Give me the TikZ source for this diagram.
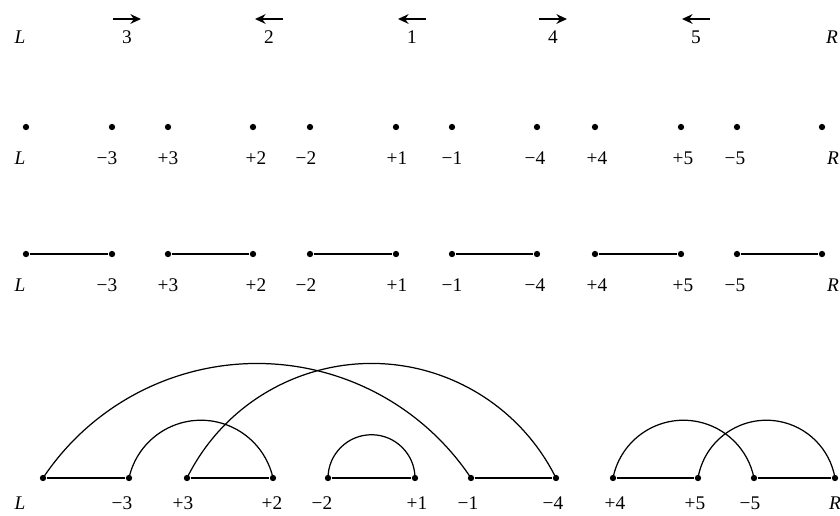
\documentclass[tikz,border=0pt]{standalone}
\usepackage{fontspec}
\setmainfont{Liberation Serif}
\usepackage{tikz}
\usetikzlibrary{arrows.meta, calc}

%% gray edge: circular arc from node #1 up to node #2, rising #3 (sketch px)
\newcommand{\greyarc}[3]{%
  \draw[cycleedge] let \p1=(#1), \p2=(#2),
    \n1={0.5*(\x2-\x1)}, \n2={#3*0.5669pt},
    \n3={(\n1/\n2*\n1+\n2)/2}, \n4={asin(\n1/\n3)} in
    (#1) arc[start angle=90+\n4, end angle=90-\n4, radius=\n3];}

\begin{document}
\begin{tikzpicture}[x=0.02cm, y=0.02cm,
  dot/.style={circle, fill=black, inner sep=0pt, minimum size=3.6pt},
  lbl/.style={font=\fontsize{11}{13}\selectfont, inner sep=1pt},
  blackedge/.style={line width=0.9pt},
  cycleedge/.style={line width=0.7pt}]

  \useasboundingbox (0,0) rectangle (840,-515);

  %% Row heights (dots / labels)
  \def\yA{-37}     % permutation
  \def\yArr{-19}   % orientation arrows
  \def\yB{-127}    % dots
  \def\yBl{-158}
  \def\yC{-254}    % black edges
  \def\yCl{-285}
  \def\yD{-478}    % breakpoint graph
  \def\yDl{-503}

  %% Row 1: signed permutation with orientations
  \node[lbl] (aL) at (20,\yA) {\textit{L}};
  \node[lbl] (aR) at (832,\yA) {\textit{R}};
  \foreach \cx/\num/\dir in {127/3/1, 269/2/-1, 412/1/-1, 553/4/1, 696/5/-1}{
    \node[lbl] (a\num) at (\cx,\yA) {\num};
    \draw[-{Stealth[length=6pt, width=5.5pt]}, line width=1.1pt]
      (\cx-14*\dir,\yArr) -- (\cx+14*\dir,\yArr);
  }

  %% Row 2: end points only
  \foreach \cx/\lx/\nm/\txt in {
    26/20/L/\textit{L}, 112/107/m3/−3, 168/168/p3/+3, 253/256/p2/+2,
    310/306/m2/−2, 396/397/p1/+1, 452/452/m1/−1, 537/535/m4/−4,
    595/597/p4/+4, 681/683/p5/+5, 737/735/m5/−5, 822/833/R/\textit{R}
  }{
    \node[dot] (b\nm) at (\cx,\yB) {};
    \node[lbl] at (\lx,\yBl) {\txt};
  }

  %% Row 3: black edges
  \foreach \cx/\lx/\nm/\txt in {
    26/20/L/\textit{L}, 112/107/m3/−3, 168/168/p3/+3, 253/256/p2/+2,
    310/306/m2/−2, 396/397/p1/+1, 452/452/m1/−1, 537/535/m4/−4,
    595/597/p4/+4, 681/683/p5/+5, 737/735/m5/−5, 822/833/R/\textit{R}
  }{
    \node[dot] (c\nm) at (\cx,\yC) {};
    \node[lbl] at (\lx,\yCl) {\txt};
  }
  \foreach \a/\b in {L/m3, p3/p2, m2/p1, m1/m4, p4/p5, m5/R}{
    \draw[blackedge] (c\a) -- (c\b);
  }

  %% Row 4: breakpoint graph
  \foreach \cx/\lx/\nm/\txt in {
    43/20/L/\textit{L}, 129/122/m3/−3, 187/183/p3/+3, 273/272/p2/+2,
    328/322/m2/−2, 415/417/p1/+1, 471/468/m1/−1, 556/553/m4/−4,
    613/615/p4/+4, 698/695/p5/+5, 754/750/m5/−5, 835/835/R/\textit{R}
  }{
    \node[dot] (d\nm) at (\cx,\yD) {};
    \node[lbl] at (\lx,\yDl) {\txt};
  }
  \foreach \a/\b in {L/m3, p3/p2, m2/p1, m1/m4, p4/p5, m5/R}{
    \draw[blackedge] (d\a) -- (d\b);
  }

  % gray edges
  \greyarc{dL}{dm1}{115}
  \greyarc{dp3}{dm4}{115}
  \greyarc{dm3}{dp2}{58}
  \greyarc{dm2}{dp1}{43}
  \greyarc{dp4}{dm5}{58}
  \greyarc{dp5}{dR}{58}

\end{tikzpicture}
\end{document}
